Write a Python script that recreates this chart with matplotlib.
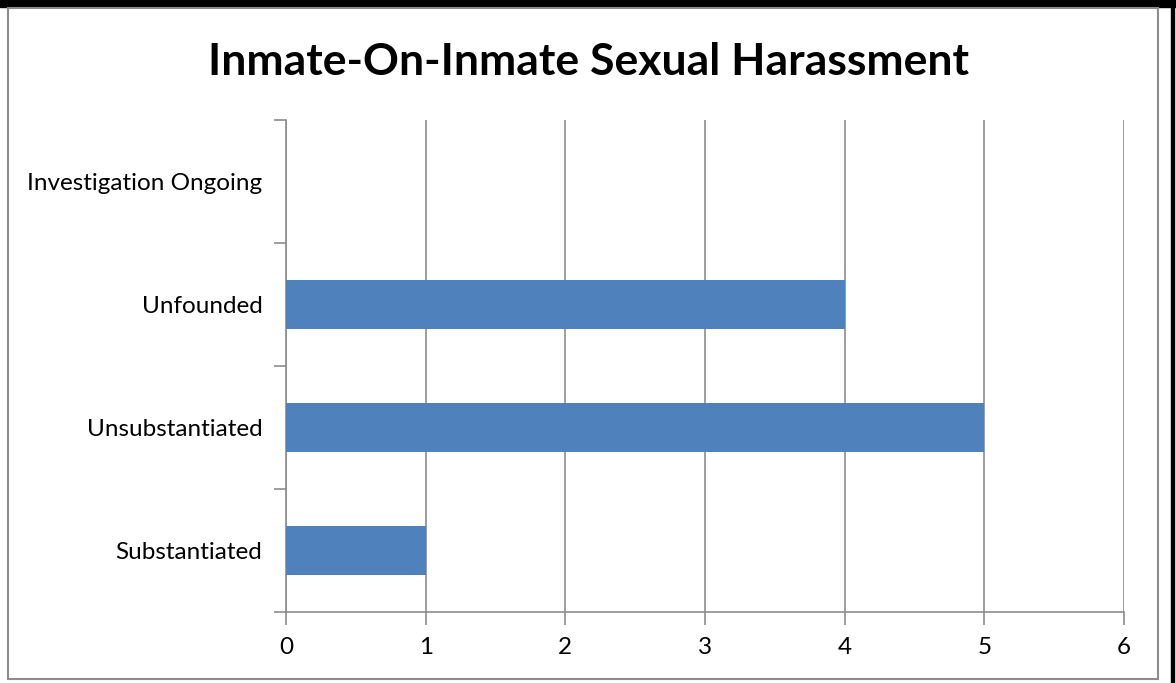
import matplotlib.pyplot as plt
from matplotlib.patches import Rectangle

categories = ['Substantiated', 'Unsubstantiated', 'Unfounded', 'Investigation Ongoing']
values = [1, 5, 4, 0]
title = 'Inmate-On-Inmate Sexual Harassment'

W, H = 1176, 683
plt.rcParams['font.family'] = ['Lato', 'DejaVu Sans']
fig = plt.figure(figsize=(W/100, H/100), dpi=100)

# outer frame, black band on top and line at right like the screenshot
fig.patches.append(Rectangle((0, 1 - 7/H), 1, 7/H, transform=fig.transFigure, color='black'))
fig.patches.append(Rectangle((1171/W, 0), 3/W, 1, transform=fig.transFigure, color='black'))
fig.patches.append(Rectangle((8/W, 4/H), 1150/W, (H - 12)/H, transform=fig.transFigure,
                             fill=False, edgecolor='#8c8c8c', linewidth=1.5))

ax = fig.add_axes([286/W, (H - 612)/H, (1124 - 286)/W, (612 - 120)/H])
grey = '#8c8c8c'
ax.barh(range(len(categories)), values, height=0.4, color='#4f81bd', zorder=3)
ax.set_xlim(0, 6)
ax.set_ylim(-0.5, len(categories) - 0.5)
ax.set_xticks(range(7))
ax.grid(axis='x', color=grey, linewidth=1.2, zorder=0)
ax.set_yticks([i - 0.5 for i in range(len(categories) + 1)])
ax.set_yticklabels([])
ax.set_yticks(range(len(categories)), minor=True)
ax.set_yticklabels(categories, minor=True, fontsize=17.5)
ax.tick_params(axis='y', which='minor', length=0, pad=17)
ax.tick_params(axis='y', which='major', length=9, color=grey, width=1.2)
ax.tick_params(axis='x', length=9, color=grey, width=1.2, labelsize=17.5, pad=9)
for s in ['top', 'right']:
    ax.spines[s].set_visible(False)
for s in ['left', 'bottom']:
    ax.spines[s].set_color(grey)
    ax.spines[s].set_linewidth(1.2)

fig.text(0.5, 1 - 62/H, title, ha='center', va='center', fontsize=32, fontweight='bold')

fig.savefig('out.png', dpi=100)
